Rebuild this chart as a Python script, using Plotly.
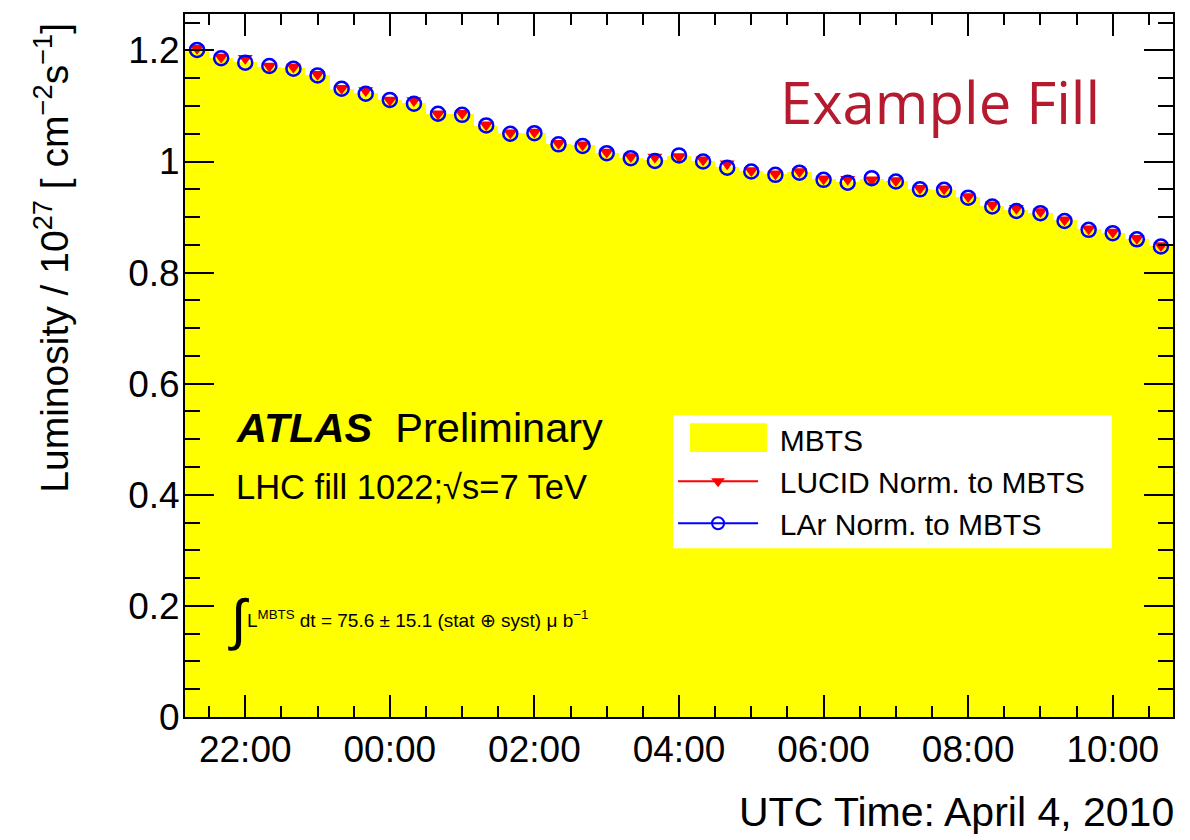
import plotly.graph_objects as go

# Bin centres (20 min bins), LHC fill 1022
tiempos = [
    "2010-04-03 21:20", "2010-04-03 21:40", "2010-04-03 22:00", "2010-04-03 22:20",
    "2010-04-03 22:40", "2010-04-03 23:00", "2010-04-03 23:20", "2010-04-03 23:40",
    "2010-04-04 00:00", "2010-04-04 00:20", "2010-04-04 00:40", "2010-04-04 01:00",
    "2010-04-04 01:20", "2010-04-04 01:40", "2010-04-04 02:00", "2010-04-04 02:20",
    "2010-04-04 02:40", "2010-04-04 03:00", "2010-04-04 03:20", "2010-04-04 03:40",
    "2010-04-04 04:00", "2010-04-04 04:20", "2010-04-04 04:40", "2010-04-04 05:00",
    "2010-04-04 05:20", "2010-04-04 05:40", "2010-04-04 06:00", "2010-04-04 06:20",
    "2010-04-04 06:40", "2010-04-04 07:00", "2010-04-04 07:20", "2010-04-04 07:40",
    "2010-04-04 08:00", "2010-04-04 08:20", "2010-04-04 08:40", "2010-04-04 09:00",
    "2010-04-04 09:20", "2010-04-04 09:40", "2010-04-04 10:00", "2010-04-04 10:20",
    "2010-04-04 10:40",
]

mbts = [
    1.202, 1.187, 1.179, 1.171, 1.168, 1.156, 1.130, 1.123, 1.110, 1.105,
    1.085, 1.085, 1.064, 1.051, 1.052, 1.032, 1.029, 1.016, 1.007, 1.002,
    1.010, 1.001, 0.990, 0.983, 0.977, 0.981, 0.968, 0.963, 0.968, 0.965,
    0.951, 0.948, 0.936, 0.920, 0.912, 0.908, 0.894, 0.878, 0.872, 0.861,
    0.848,
]

lucid = [
    1.204, 1.188, 1.186, 1.172, 1.170, 1.157, 1.132, 1.128, 1.111, 1.110,
    1.086, 1.087, 1.066, 1.052, 1.053, 1.033, 1.030, 1.017, 1.009, 1.008,
    1.009, 1.003, 0.996, 0.984, 0.978, 0.982, 0.969, 0.968, 0.967, 0.966,
    0.952, 0.951, 0.937, 0.922, 0.916, 0.910, 0.895, 0.879, 0.873, 0.862,
    0.849,
]

lar = [
    1.201, 1.186, 1.178, 1.172, 1.167, 1.155, 1.131, 1.122, 1.111, 1.104,
    1.086, 1.084, 1.065, 1.050, 1.051, 1.031, 1.028, 1.015, 1.006, 1.001,
    1.011, 1.000, 0.989, 0.982, 0.976, 0.980, 0.967, 0.962, 0.970, 0.964,
    0.950, 0.949, 0.935, 0.919, 0.911, 0.907, 0.893, 0.877, 0.871, 0.860,
    0.847,
]

BIN_MS = 20 * 60 * 1000
FUENTE = "Liberation Sans, Arial, sans-serif"
TICK_FS = 37
TITULO_FS = 39
AMARILLO = "#ffff00"
ROJO = "#ff0000"
AZUL = "#0000ff"
NB = "\u00a0\u00a0"   # espacio entre simbolo y texto en la leyenda

fig = go.Figure()

# Histograma MBTS (relleno amarillo)
fig.add_trace(go.Bar(
    x=tiempos, y=mbts, width=BIN_MS,
    marker=dict(color=AMARILLO, line=dict(width=0)),
    showlegend=False,
))

# Puntos con barras horizontales (anchura del bin)
fig.add_trace(go.Scatter(
    x=tiempos, y=lucid, mode="markers",
    marker=dict(symbol="triangle-down", size=13, color=ROJO),
    error_x=dict(type="constant", value=BIN_MS / 2, width=0, color=ROJO, thickness=3),
    showlegend=False,
))

fig.add_trace(go.Scatter(
    x=tiempos, y=lar, mode="markers",
    marker=dict(symbol="circle-open", size=14, color=AZUL, line=dict(width=2.5)),
    error_x=dict(type="constant", value=BIN_MS / 2, width=0, color=AZUL, thickness=3),
    showlegend=False,
))

# Entradas de leyenda (estilo ROOT: caja, linea+marcador)
fig.add_trace(go.Scatter(
    x=[None], y=[None], mode="lines",
    line=dict(color="rgba(0,0,0,0)", width=2),
    name=NB + "MBTS",
))
fig.add_trace(go.Scatter(
    x=[None], y=[None], mode="lines+markers",
    line=dict(color=ROJO, width=2),
    marker=dict(symbol="triangle-down", size=12, color=ROJO),
    name=NB + "LUCID Norm. to MBTS",
))
fig.add_trace(go.Scatter(
    x=[None], y=[None], mode="lines+markers",
    line=dict(color=AZUL, width=2),
    marker=dict(symbol="circle-open", size=12, color=AZUL, line=dict(width=2)),
    name=NB + "LAr Norm. to MBTS",
))

# Caja blanca de la leyenda y muestra amarilla grande (como en ROOT)
fig.add_shape(type="rect", xref="paper", yref="paper",
              x0=0.494, x1=0.938, y0=0.240, y1=0.4296,
              fillcolor="white", line=dict(width=0), layer="above")
fig.add_shape(type="rect", xref="paper", yref="paper",
              x0=0.511, x1=0.589, y0=0.377, y1=0.418,
              fillcolor=AMARILLO, line=dict(width=0), layer="above")

# La pagina tiene un margen de 8 px: figura algo menor que la ventana
fig.update_layout(
    width=1174, height=832, autosize=False,
    margin=dict(l=177, r=9, t=6, b=123, autoexpand=False),
    paper_bgcolor="white", plot_bgcolor="white",
    bargap=0,
    font=dict(family=FUENTE, color="black"),
    xaxis=dict(
        type="date", automargin=False,
        range=["2010-04-03 21:10", "2010-04-04 10:50"],
        tick0="2010-04-03 22:00", dtick=2 * 3600 * 1000,
        tickformat="%H:%M",
        ticks="inside", ticklen=22, tickwidth=2, tickcolor="black",
        minor=dict(dtick=30 * 60 * 1000, tick0="2010-04-03 22:00",
                   ticks="inside", ticklen=11, tickwidth=2, tickcolor="black"),
        showline=True, linecolor="black", linewidth=2, mirror="ticks",
        showgrid=False, zeroline=False,
        tickfont=dict(size=TICK_FS),
        ticklabelstandoff=-1,
    ),
    yaxis=dict(
        automargin=False,
        range=[0, 1.2656], dtick=0.2, tick0=0,
        ticks="inside", ticklen=29, tickwidth=2, tickcolor="black",
        minor=dict(dtick=0.05, ticks="inside", ticklen=15, tickwidth=2, tickcolor="black"),
        showline=True, linecolor="black", linewidth=2, mirror="ticks",
        showgrid=False, zeroline=False,
        tickfont=dict(size=TICK_FS),
        ticklabelstandoff=-4,
    ),
    legend=dict(
        x=0.494, y=0.432, xanchor="left", yanchor="top",
        bgcolor="rgba(0,0,0,0)", borderwidth=0,
        font=dict(size=30, color="black"),
        itemwidth=80, traceorder="normal",
    ),
    showlegend=True,
)

# Titulo del eje Y alineado arriba (como ROOT)
fig.add_annotation(
    text="Luminosity / 10<sup>27</sup> [ cm<sup>\u22122</sup>s<sup>\u22121</sup>]",
    xref="paper", yref="paper", x=-0.136, y=0.99,
    xanchor="center", yanchor="top", textangle=-90,
    showarrow=False, font=dict(size=TITULO_FS),
)

# Titulo del eje X alineado a la derecha
fig.add_annotation(
    text="UTC Time: April 4, 2010", xref="paper", yref="paper",
    x=1.002, y=-0.135, xanchor="right", yanchor="middle",
    showarrow=False, font=dict(size=41), borderpad=0,
)

fig.add_annotation(
    text="Example Fill", xref="paper", yref="paper",
    x=0.6, y=0.875, xanchor="left", yanchor="middle",
    showarrow=False, font=dict(family="Open Sans", size=58, color="#b51a2e"),
)

fig.add_annotation(
    text="<b><i>ATLAS</i></b>\u00a0\u00a0Preliminary", xref="paper", yref="paper",
    x=0.05, y=0.4125, xanchor="left", yanchor="middle",
    showarrow=False, font=dict(size=41.5),
)

fig.add_annotation(
    text="LHC fill 1022;\u221as=7 TeV", xref="paper", yref="paper",
    x=0.05, y=0.327, xanchor="left", yanchor="middle",
    showarrow=False, font=dict(size=34.5),
)

fig.add_annotation(
    text="\u222b", xref="paper", yref="paper",
    x=0.042, y=0.138, xanchor="left", yanchor="middle",
    showarrow=False, font=dict(size=56),
)

fig.add_annotation(
    text="L<sup>MBTS</sup> dt = 75.6 \u00b1 15.1 (stat \u2295 syst) \u03bc b<sup>\u22121</sup>",
    xref="paper", yref="paper",
    x=0.061, y=0.14, xanchor="left", yanchor="middle",
    showarrow=False, font=dict(size=19),
)

fig.write_html("out.html")
